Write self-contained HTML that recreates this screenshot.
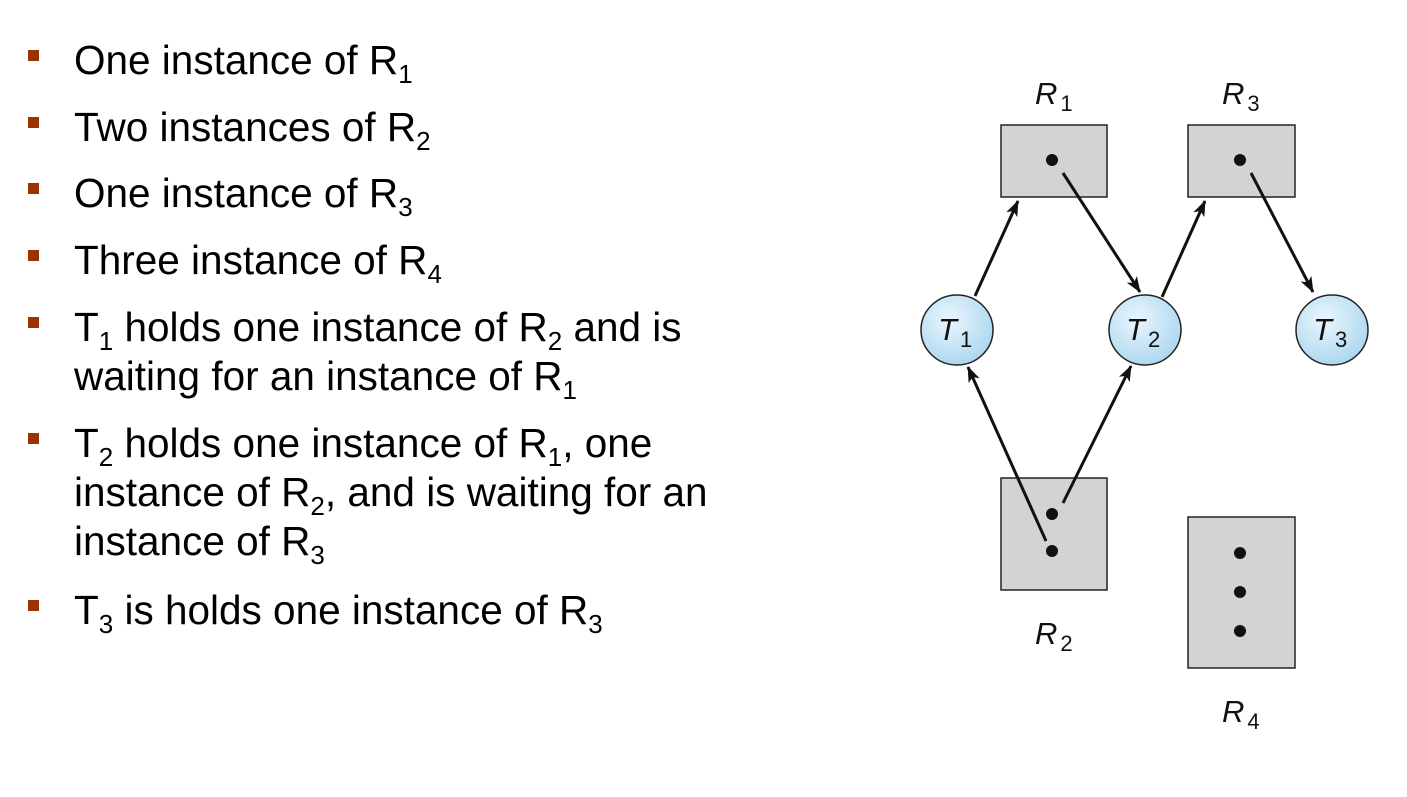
<!DOCTYPE html>
<html><head><meta charset="utf-8"><style>
body{margin:0;width:1407px;height:797px;background:#fff;overflow:hidden;font-family:"Liberation Sans",sans-serif;position:relative}
.b{position:absolute;left:28px;width:11px;height:11px;background:#9b3300}
.t{position:absolute;left:74px;font-size:40.5px;color:#000;white-space:nowrap;line-height:40px}
sub{font-size:26px;vertical-align:-9px;line-height:0}
</style></head><body>
<div>
<div class="b" style="top:50px"></div><div class="t" style="top:40px">One instance of R<sub>1</sub></div>
<div class="b" style="top:117px"></div><div class="t" style="top:107px">Two instances of R<sub>2</sub></div>
<div class="b" style="top:183px"></div><div class="t" style="top:173px">One instance of R<sub>3</sub></div>
<div class="b" style="top:250px"></div><div class="t" style="top:240px">Three instance of R<sub>4</sub></div>
<div class="b" style="top:317px"></div><div class="t" style="top:307px">T<sub>1</sub> holds one instance of R<sub>2</sub> and is</div>
<div class="t" style="top:356px">waiting for an instance of R<sub>1</sub></div>
<div class="b" style="top:433px"></div><div class="t" style="top:423px">T<sub>2</sub> holds one instance of R<sub>1</sub>, one</div>
<div class="t" style="top:472px">instance of R<sub>2</sub>, and is waiting for an</div>
<div class="t" style="top:521px">instance of R<sub>3</sub></div>
<div class="b" style="top:600px"></div><div class="t" style="top:590px">T<sub>3</sub> is holds one instance of R<sub>3</sub></div>
</div>
<svg width="1407" height="797" style="position:absolute;left:0;top:0">
<defs>
<marker id="ah" markerWidth="16" markerHeight="12" refX="15" refY="6" orient="auto" markerUnits="userSpaceOnUse" viewBox="0 0 16 12"><path d="M0,0 L16,6 L0,12 L4,6z" fill="#111"/></marker>
<radialGradient id="cg" cx="40%" cy="35%" r="70%"><stop offset="0" stop-color="#eaf6fd"/><stop offset="1" stop-color="#a9d6f0"/></radialGradient>
</defs>
<g fill="#d3d3d3" stroke="#222" stroke-width="1.5">
<rect x="1001" y="125" width="106" height="72"/>
<rect x="1188" y="125" width="107" height="72"/>
<rect x="1001" y="478" width="106" height="112"/>
<rect x="1188" y="517" width="107" height="151"/>
</g>
<g fill="#111">
<circle cx="1052" cy="160" r="6"/><circle cx="1240" cy="160" r="6"/>
<circle cx="1052" cy="514" r="6"/><circle cx="1052" cy="551" r="6"/>
<circle cx="1240" cy="553" r="6"/><circle cx="1240" cy="592" r="6"/><circle cx="1240" cy="631" r="6"/>
</g>
<g fill="url(#cg)" stroke="#222" stroke-width="1.5">
<ellipse cx="957" cy="330" rx="36" ry="35"/>
<ellipse cx="1145" cy="330" rx="36" ry="35"/>
<ellipse cx="1332" cy="330" rx="36" ry="35"/>
</g>
<g stroke="#111" stroke-width="3" marker-end="url(#ah)">
<line x1="975" y1="296" x2="1018" y2="201"/>
<line x1="1063" y1="173" x2="1140" y2="292"/>
<line x1="1162" y1="297" x2="1205" y2="201"/>
<line x1="1251" y1="173" x2="1313" y2="292"/>
<line x1="1046" y1="541" x2="968" y2="367"/>
<line x1="1063" y1="503" x2="1131" y2="366"/>
</g>
<g font-family="Liberation Sans, sans-serif" font-size="31" fill="#111">
<text x="1035" y="104"><tspan font-style="italic">R</tspan><tspan font-size="22" dx="3" dy="7">1</tspan></text>
<text x="1222" y="104"><tspan font-style="italic">R</tspan><tspan font-size="22" dx="3" dy="7">3</tspan></text>
<text x="1035" y="644"><tspan font-style="italic">R</tspan><tspan font-size="22" dx="3" dy="7">2</tspan></text>
<text x="1222" y="722"><tspan font-style="italic">R</tspan><tspan font-size="22" dx="3" dy="7">4</tspan></text>
<text x="938" y="340"><tspan font-style="italic">T</tspan><tspan font-size="22" dx="3" dy="7">1</tspan></text>
<text x="1126" y="340"><tspan font-style="italic">T</tspan><tspan font-size="22" dx="3" dy="7">2</tspan></text>
<text x="1313" y="340"><tspan font-style="italic">T</tspan><tspan font-size="22" dx="3" dy="7">3</tspan></text>
</g>
</svg>
</body></html>
